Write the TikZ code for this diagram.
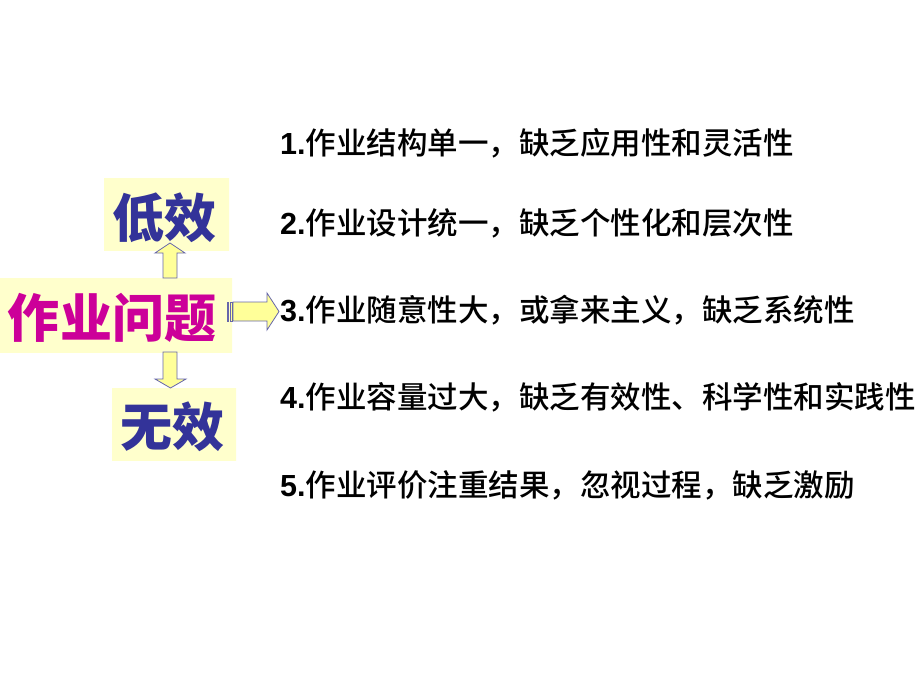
\documentclass[tikz,border=0pt]{standalone}
\usepackage{fontspec}
\setmainfont{Liberation Sans}
\newfontfamily\cjk{Noto Sans CJK SC}
\newfontfamily\cjkm{Noto Sans CJK SC Medium}
\definecolor{navy}{HTML}{333399}
\definecolor{magen}{HTML}{CC0099}
\definecolor{boxin}{HTML}{C4FCFF}
\definecolor{boxout}{HTML}{FFFFCC}
\definecolor{arrfill}{HTML}{FFFF99}
\definecolor{arredge}{HTML}{6666AA}
\tikzset{
  gbox/.style={top color=boxout, middle color=boxin, bottom color=boxout},
  blockarrow/.style={fill=arrfill, draw=arredge, line width=0.8pt, line join=miter},
  biglabel/.style={inner sep=0pt, font=\fontsize{52}{60}\selectfont\cjk\bfseries},
  item/.style={anchor=base west, inner sep=0pt, font=\fontsize{30.5}{36}\selectfont}
}
\newcommand{\itm}[2]{\textbf{#1}{\cjkm #2}}
\begin{document}
\begin{tikzpicture}[x=1pt,y=-1pt]
\useasboundingbox (0,0) rectangle (920,690);
\fill[white] (0,0) rectangle (920,690);
% boxes
\shade[gbox] (104,178) rectangle (229,250);
\shade[gbox] (0,278) rectangle (232,352);
\shade[gbox] (112,388) rectangle (236,460);
% labels
\node[biglabel, text=navy] (dx) at (164,218) {低效};
\node[biglabel, text=magen] (zy) at (112,318) {作业问题};
\node[biglabel, text=navy] (wx) at (172,427) {无效};
% arrows
\draw[blockarrow] (163,278) -- (163,253) -- (155,253) -- (170,243) -- (185,253) -- (177,253) -- (177,278) -- cycle;
\draw[blockarrow] (163,352) -- (163,379) -- (155,379) -- (170.5,388) -- (186,379) -- (177,379) -- (177,352) -- cycle;
\draw[blockarrow] (233,302) -- (267,302) -- (267,293) -- (279,311.5) -- (267,330) -- (267,321) -- (233,321) -- cycle;
\fill[arrfill] (227,302) rectangle (228.5,321);
\draw[arredge, line width=0.6pt] (227,302) rectangle (228.5,321);
\fill[arrfill] (230,302) rectangle (232,321);
\draw[arredge, line width=0.6pt] (230,302) rectangle (232,321);
% list
\node[item] (i1) at (280,154) {\itm{1.}{作业结构单一，缺乏应用性和灵活性}};
\node[item] (i2) at (280,234) {\itm{2.}{作业设计统一，缺乏个性化和层次性}};
\node[item] (i3) at (280,321) {\itm{3.}{作业随意性大，或拿来主义，缺乏系统性}};
\node[item] (i4) at (280,408) {\itm{4.}{作业容量过大，缺乏有效性、科学性和实践性}};
\node[item] (i5) at (280,496) {\itm{5.}{作业评价注重结果，忽视过程，缺乏激励}};
\end{tikzpicture}
\end{document}
